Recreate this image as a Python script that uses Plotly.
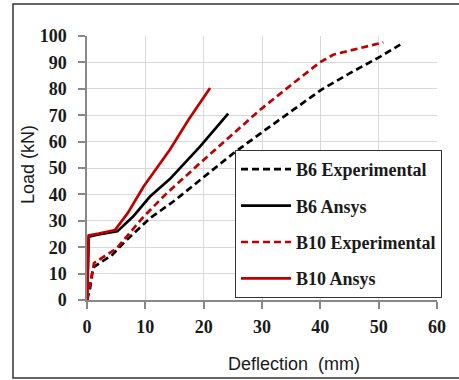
import plotly.graph_objects as go

# B6 Experimental
b6_exp_x = [0, 0.5, 0.8, 1.1, 2.5, 4.2, 6.5, 10.8, 14.8, 19.4, 25.1, 30.8, 36.5, 40.2, 45.7, 50.2, 53.7]
b6_exp_y = [0, 4, 9, 12.4, 14.5, 16.8, 22.1, 31, 37.3, 45.5, 55.6, 64.8, 73.8, 79.7, 86.7, 92.1, 96.7]
# B6 Ansys
b6_ans_x = [0, 0.2, 0.3, 2, 5.2, 7.9, 10.8, 14.2, 19.4, 24.2]
b6_ans_y = [0, 12, 24, 24.8, 26, 31.6, 39.2, 45.8, 58.2, 70.6]
# B10 Experimental
b10_exp_x = [0, 0.4, 0.8, 1.2, 3, 5.1, 9.7, 13.7, 19.4, 29.7, 36.5, 39.9, 42.2, 46.8, 50.8]
b10_exp_y = [0, 4, 9, 14, 16.5, 19.6, 31.6, 40.5, 51.9, 72.1, 84.1, 90.0, 92.9, 95.5, 97.6]
# B10 Ansys
b10_ans_x = [0, 0.15, 0.3, 2, 4.8, 7, 9.7, 14.2, 17.4, 21.1]
b10_ans_y = [0, 12, 24.5, 25.2, 26.5, 33, 43, 56.9, 68.3, 80.3]

names = ["B6 Experimental", "B6 Ansys", "B10 Experimental", "B10 Ansys"]
xs = [b6_exp_x, b6_ans_x, b10_exp_x, b10_ans_x]
ys = [b6_exp_y, b6_ans_y, b10_exp_y, b10_ans_y]
colors = ["#000000", "#000000", "#C00000", "#C00000"]
dashes = ["7px,4px", "solid", "7px,4px", "solid"]

x_ticks = [0, 10, 20, 30, 40, 50, 60]
y_ticks = [0, 10, 20, 30, 40, 50, 60, 70, 80, 90, 100]

fig = go.Figure()
for i in range(4):
    fig.add_trace(go.Scatter(
        x=xs[i], y=ys[i], mode="lines", name=names[i], legendgroup=names[i],
        line=dict(color=colors[i], width=2.7, dash=dashes[i]),
    ))

serif = "Liberation Serif, Times New Roman, serif"
sans = "Liberation Sans, Arial, sans-serif"

L, R, T, B = 87, 22, 36, 80
W, H = 459, 380
pw, ph = W - L - R, H - T - B

def px_x(p):
    return (p - L) / pw

def px_y(p):
    return (H - B - p) / ph

fig.update_layout(
    width=W, height=H,
    margin=dict(l=L, r=R, t=T, b=B),
    paper_bgcolor="white", plot_bgcolor="white",
    showlegend=True,
    legend=dict(
        x=px_x(235), y=px_y(150), xanchor="left", yanchor="top",
        bgcolor="white", bordercolor="#333333", borderwidth=1,
        font=dict(family=serif, size=18, color="#1a1a1a", weight="bold"),
        tracegroupgap=10, traceorder="grouped", itemwidth=50,
    ),
    xaxis=dict(
        range=[0, 60], tickvals=x_ticks, ticktext=[str(v) for v in x_ticks],
        showgrid=True, gridcolor="#d9d9d9", gridwidth=1,
        showline=True, linecolor="#888888", linewidth=1.5,
        ticks="outside", ticklen=7, tickcolor="#888888", tickwidth=1.5,
        tickfont=dict(family=serif, size=18, color="#1a1a1a", weight="bold"),
        ticklabelstandoff=3, zeroline=False,
    ),
    yaxis=dict(
        range=[0, 100], tickvals=y_ticks, ticktext=[str(v) for v in y_ticks],
        showgrid=True, gridcolor="#d9d9d9", gridwidth=1,
        showline=True, linecolor="#888888", linewidth=1.5,
        ticks="outside", ticklen=7, tickcolor="#888888", tickwidth=1.5,
        tickfont=dict(family=serif, size=18, color="#1a1a1a", weight="bold"),
        ticklabelstandoff=8, zeroline=False,
    ),
    shapes=[
        dict(type="rect", xref="paper", yref="paper",
             x0=px_x(13), x1=px_x(465), y0=px_y(378), y1=px_y(4),
             line=dict(color="#333333", width=1.5), fillcolor="rgba(0,0,0,0)", layer="below"),
    ],
    annotations=[
        dict(text="Deflection  (mm)", xref="paper", yref="paper",
             x=px_x(294), y=px_y(364), showarrow=False,
             font=dict(family=sans, size=18, color="#1a1a1a"),
             xanchor="center", yanchor="middle"),
        dict(text="Load (kN)", xref="paper", yref="paper",
             x=px_x(28), y=px_y(165), showarrow=False, textangle=-90,
             font=dict(family=sans, size=18, color="#1a1a1a"),
             xanchor="center", yanchor="middle"),
    ],
)

fig.write_html("out.html")
